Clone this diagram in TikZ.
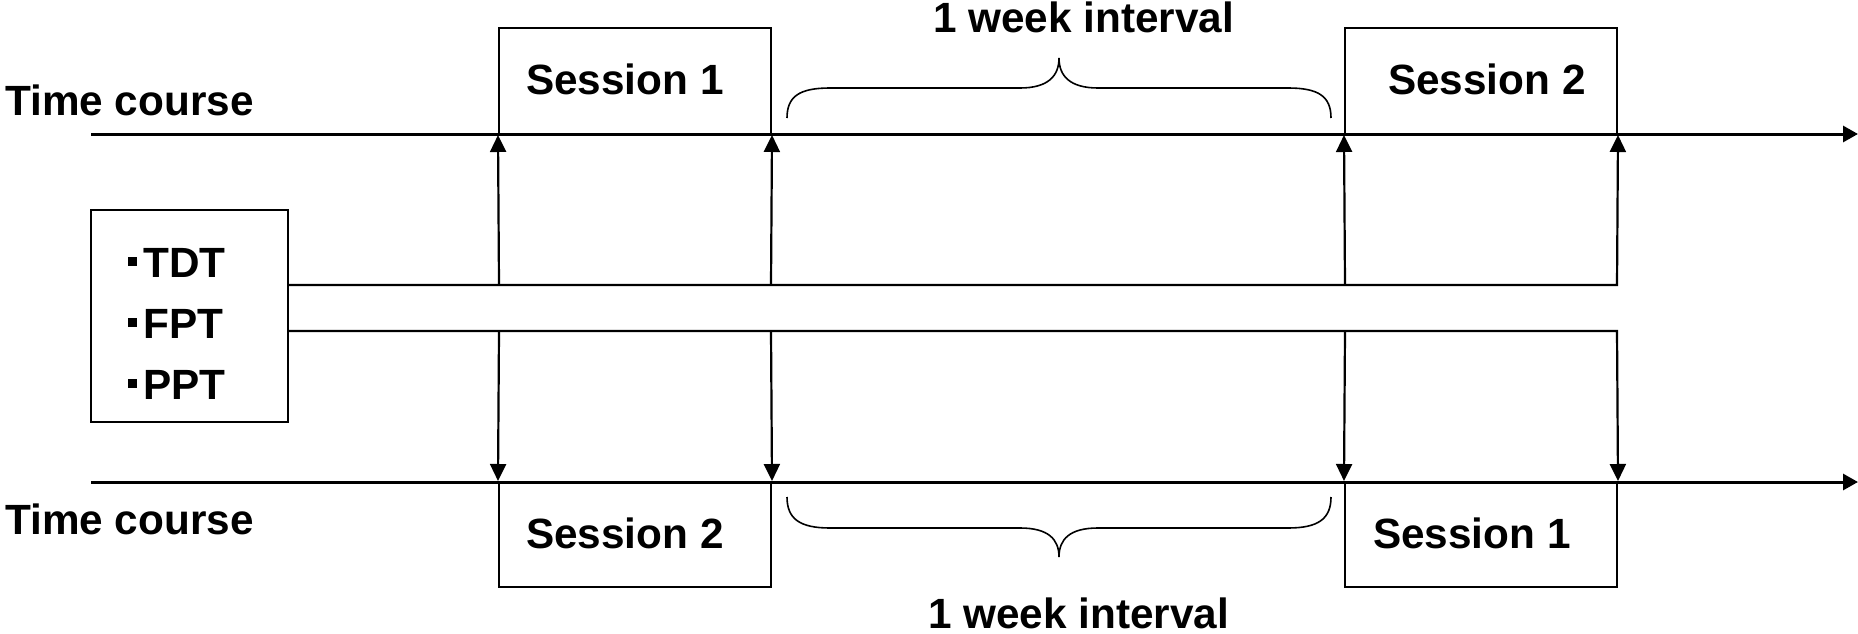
\documentclass[tikz,border=0pt]{standalone}
\usepackage{fontspec}
\setmainfont{Liberation Sans}
\usetikzlibrary{arrows.meta}
\newcommand\sqbul{\rule[0.26em]{0.2em}{0.22em}\hspace{0.16em}}
\begin{document}
\begin{tikzpicture}[x=1pt,y=-1pt,
  box/.style={draw, line width=2pt, inner sep=0pt, rectangle},
  lbl/.style={inner sep=0pt, anchor=base west, font=\fontsize{42.3}{50}\selectfont\bfseries},
  tline/.style={line width=3pt, -{Triangle[width=16pt,length=15pt]}},
  conn/.style={line width=2pt},
  uparr/.style={line width=2.2pt, -{Triangle[width=16pt,length=17pt]}},
  brace/.style={line width=1.6pt}]
\useasboundingbox (0,0) rectangle (1858,634);

% boxes
\node[box, minimum width=197pt, minimum height=212pt] (tests) at (189.5,316) {};
\node[box, minimum width=272pt, minimum height=106pt] (s1t) at (635,81) {};
\node[box, minimum width=272pt, minimum height=106pt] (s2t) at (1481,81) {};
\node[box, minimum width=272pt, minimum height=105pt] (s2b) at (635,534.5) {};
\node[box, minimum width=272pt, minimum height=105pt] (s1b) at (1481,534.5) {};

% timelines
\coordinate (t1s) at (91,134);
\coordinate (t1e) at (1858,134);
\coordinate (t2s) at (91,482);
\coordinate (t2e) at (1858,482);
\draw[tline] (t1s) -- (t1e);
\draw[tline] (t2s) -- (t2e);

% texts
\node[lbl] (tc1) at (5,115) {Time course};
\node[lbl] (tc2) at (5,534) {Time course};
\node[lbl] (l1t) at (526,95) {Session 1};
\node[lbl] (l2t) at (1388,95) {Session 2};
\node[lbl] (l2b) at (526,548) {Session 2};
\node[lbl] (l1b) at (1373,548) {Session 1};
\node[lbl] (wk1) at (933,33) {1 week interval};
\node[lbl] (wk2) at (928,628) {1 week interval};
\node[lbl] (tdt) at (128,277) {\sqbul TDT};
\node[lbl] (fpt) at (128,338) {\sqbul FPT};
\node[lbl] (ppt) at (128,399) {\sqbul PPT};

% connectors
\coordinate (a1) at (499,285);
\coordinate (a2) at (771,285);
\coordinate (a3) at (1345,285);
\coordinate (a4) at (1617,285);
\coordinate (b1) at (499,331);
\coordinate (b2) at (771,331);
\coordinate (b3) at (1345,331);
\coordinate (b4) at (1617,331);
\draw[uparr] (tests.east |- a1) -- (a4) -- (s2t.south east);
\draw[uparr] (a1) -- (s1t.south west);
\draw[uparr] (a2) -- (s1t.south east);
\draw[uparr] (a3) -- (s2t.south west);
\draw[uparr] (tests.east |- b1) -- (b4) -- (s1b.north east);
\draw[uparr] (b1) -- (s2b.north west);
\draw[uparr] (b2) -- (s2b.north east);
\draw[uparr] (b3) -- (s1b.north west);

% braces
\draw[brace] (787,118) .. controls (787,96) and (800,88) .. (830,88) -- (1020,88)
  .. controls (1048,88) and (1059,76) .. (1059,58)
  .. controls (1059,76) and (1070,88) .. (1098,88) -- (1288,88)
  .. controls (1318,88) and (1331,96) .. (1331,118);
\draw[brace] (787,497) .. controls (787,519) and (800,528) .. (830,528) -- (1020,528)
  .. controls (1048,528) and (1059,539) .. (1059,557)
  .. controls (1059,539) and (1070,528) .. (1098,528) -- (1288,528)
  .. controls (1318,528) and (1331,519) .. (1331,497);
\end{tikzpicture}
\end{document}
